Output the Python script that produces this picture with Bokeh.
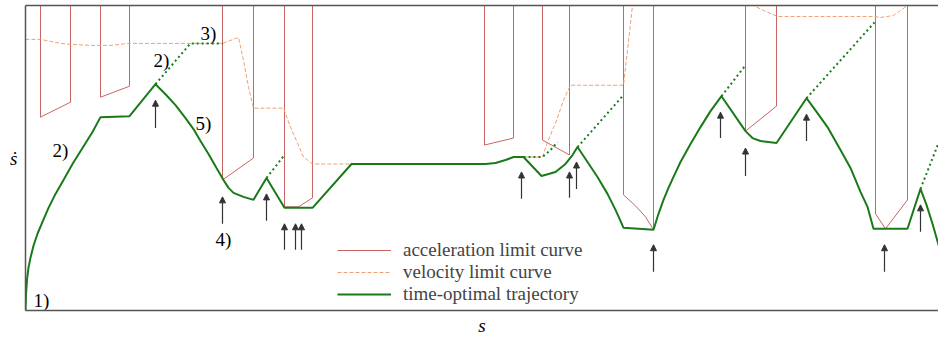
from bokeh.plotting import figure
from bokeh.models import (Range1d, LinearAxis, FixedTicker, Legend, LegendItem,
                          Arrow, NormalHead, ColumnDataSource)
from bokeh.core.properties import value
from bokeh.embed import file_html
from bokeh.resources import INLINE

nan = float("nan")

# time-optimal trajectory (solid parts), path parameter s vs. path velocity s-dot
traj_s = [0, 0.5, 1.5, 3, 5, 8, 12, 17, 23, 30, 38, 47, 57, 67, 75, 104, 130, 140, 150,
          160, 168, 175, 183, 191, 198, 203, 208, 218, 228, 241, 259, 287, 326, 460, 470,
          480, 488, 498, 516, 530, 540, 547, 552, 562, 572, 582, 590, 595, 598, 628, 633,
          638, 643, 648, 655, 665, 675, 685, 696, 720, 727, 735, 751, 781, 792, 802, 815,
          825, 835, 842, 848, 882, 895, 901, 907, 913, 917]
traj_sdot = [0, 16, 31, 43, 53, 65, 77, 89, 103, 117, 131, 147, 163, 179, 194, 195, 227,
             217, 206, 193, 182, 170, 157, 143, 131, 123, 118, 114, 111, 133, 103, 103, 147,
             147, 148, 151, 154, 154, 135, 139, 147, 156, 164, 149, 134, 117, 101, 90, 83,
             81, 97, 111, 123, 134, 149, 167, 184, 200, 215, 180, 173, 170, 168, 213, 198,
             184, 161, 143, 119, 104, 82, 82, 122, 106, 87, 66, 53]

# integration continued past the switching points (dotted)
ext_s = [[130, 165, 197], [241, 259], [498, 517, 525, 532], [552, 597], [696, 720],
         [781, 849], [895, 915]]
ext_sdot = [[227, 268, 268], [133, 156], [154, 154, 161, 169], [164, 215], [215, 246],
            [213, 289], [122, 173]]

# velocity limit curve
vel_s = [0, 15, 25, 35, 45, 65, 85, 95, 102, 197, 213, 218, 223, 228, 258, 265, 272, 278,
         287, 460, 470, 480, 488, 517, 522, 530, 538, 545, 598, 602, 607, 609, nan,
         710, 728, 738, 752, 849, 855, 868, 882, 887]
vel_sdot = [272, 272, 270, 268, 267, 266, 266, 267, 268, 268, 274, 251, 224, 203, 203, 184,
            168, 154, 147, 147, 148, 151, 154, 154, 169, 188, 211, 226, 226, 261, 306, 331,
            nan, 316, 306, 301, 295, 295, 294, 296, 306, 321]

# acceleration limit curves
acc_s = [[15, 15, 45, 45], [75, 75, 104, 104], [197, 197, 228, 228],
         [259, 259, 273, 287, 287], [459, 459, 488, 488], [517, 517, 544, 544],
         [598, 598, 610, 620, 628, 628], [720, 720, 751, 751], [850, 850, 860, 882, 882]]
acc_sdot = [[321, 194, 209, 321], [321, 214, 225, 321], [321, 131, 153, 321],
            [321, 104, 104, 113, 321], [321, 166, 173, 321], [321, 171, 156, 321],
            [321, 116, 105, 94, 81, 321], [321, 180, 205, 321], [321, 97, 82, 111, 321]]

# switching point markers
arrow_s = [130, 197, 241, 259, 270, 276, 496, 544, 551, 628, 695, 720, 781, 859, 895]
arrow_lo = [183, 87, 90, 61, 61, 61, 112, 113, 122, 39, 173, 135, 170, 39, 79]
arrow_hi = [211, 114, 117, 87, 87, 87, 139, 139, 149, 66, 199, 163, 197, 66, 106]

# step labels
note_s = [8, 27, 128, 175, 170, 190]
note_sdot = [10, 161, 251, 278, 188, 71]
note_text = ["1)", "2)", "2)", "3)", "5)", "4)"]

SERIF = "Liberation Serif"
RED = "#c86464"
ORANGE = "#f0a070"
GREEN = "#1a7a1a"
AXIS = "#555555"

p = figure(width=938, height=338, output_backend="svg", toolbar_location=None,
           x_range=Range1d(0, 913), y_range=Range1d(0, 306),
           x_axis_type=None, y_axis_type=None,
           min_border_left=25, min_border_right=0, min_border_top=5, min_border_bottom=27)
p.outline_line_color = None
p.grid.visible = False
p.background_fill_color = "white"


def bare_axis(label=None):
    ax = LinearAxis(ticker=FixedTicker(ticks=[]))
    ax.major_tick_line_color = None
    ax.minor_tick_line_color = None
    ax.major_tick_out = 0
    ax.minor_tick_out = 0
    ax.major_label_standoff = 0
    ax.major_label_text_font_size = "0px"
    ax.axis_line_color = AXIS
    ax.axis_line_width = 1.5
    if label:
        ax.axis_label = label
        ax.axis_label_text_font = SERIF
        ax.axis_label_text_font_style = "italic"
        ax.axis_label_text_font_size = "19px"
        ax.axis_label_text_color = "black"
    return ax


bottom_axis = bare_axis("s")
bottom_axis.axis_label_standoff = 4
left_axis = bare_axis("ṡ")
left_axis.axis_label_standoff = 8
left_axis.axis_label_orientation = "horizontal"
top_axis = bare_axis()

p.add_layout(bottom_axis, "below")
p.add_layout(left_axis, "left")
p.add_layout(top_axis, "above")

acc = p.multi_line(acc_s, acc_sdot, line_color=RED, line_width=1)
vel = p.line(vel_s, vel_sdot, line_color=ORANGE, line_width=1, line_dash="4 2")
p.multi_line(ext_s, ext_sdot, line_color=GREEN, line_width=2, line_dash="2 3")
traj = p.line(traj_s, traj_sdot, line_color=GREEN, line_width=2)

arrows = ColumnDataSource(dict(s=arrow_s, lo=arrow_lo, hi=arrow_hi))
p.add_layout(Arrow(end=NormalHead(size=6, fill_color="#333333", line_color="#333333",
                                  line_width=1),
                   x_start="s", y_start="lo", x_end="s", y_end="hi", source=arrows,
                   line_color="#333333", line_width=1.2))

p.text(x=note_s, y=note_sdot, text=note_text, text_font=value(SERIF),
       text_font_size="19px", text_baseline="middle", text_align="left",
       text_color="black")

legend = Legend(items=[LegendItem(label="acceleration limit curve", renderers=[acc]),
                       LegendItem(label="velocity limit curve", renderers=[vel]),
                       LegendItem(label="time-optimal trajectory", renderers=[traj])],
                location=(312, 5), padding=0, margin=0, spacing=-2,
                glyph_width=54, glyph_height=20, label_height=20, label_standoff=12,
                label_text_font=SERIF, label_text_font_size="19px",
                border_line_color=None, background_fill_alpha=0)
p.add_layout(legend)

open("out.html", "w").write(file_html(p, INLINE))
